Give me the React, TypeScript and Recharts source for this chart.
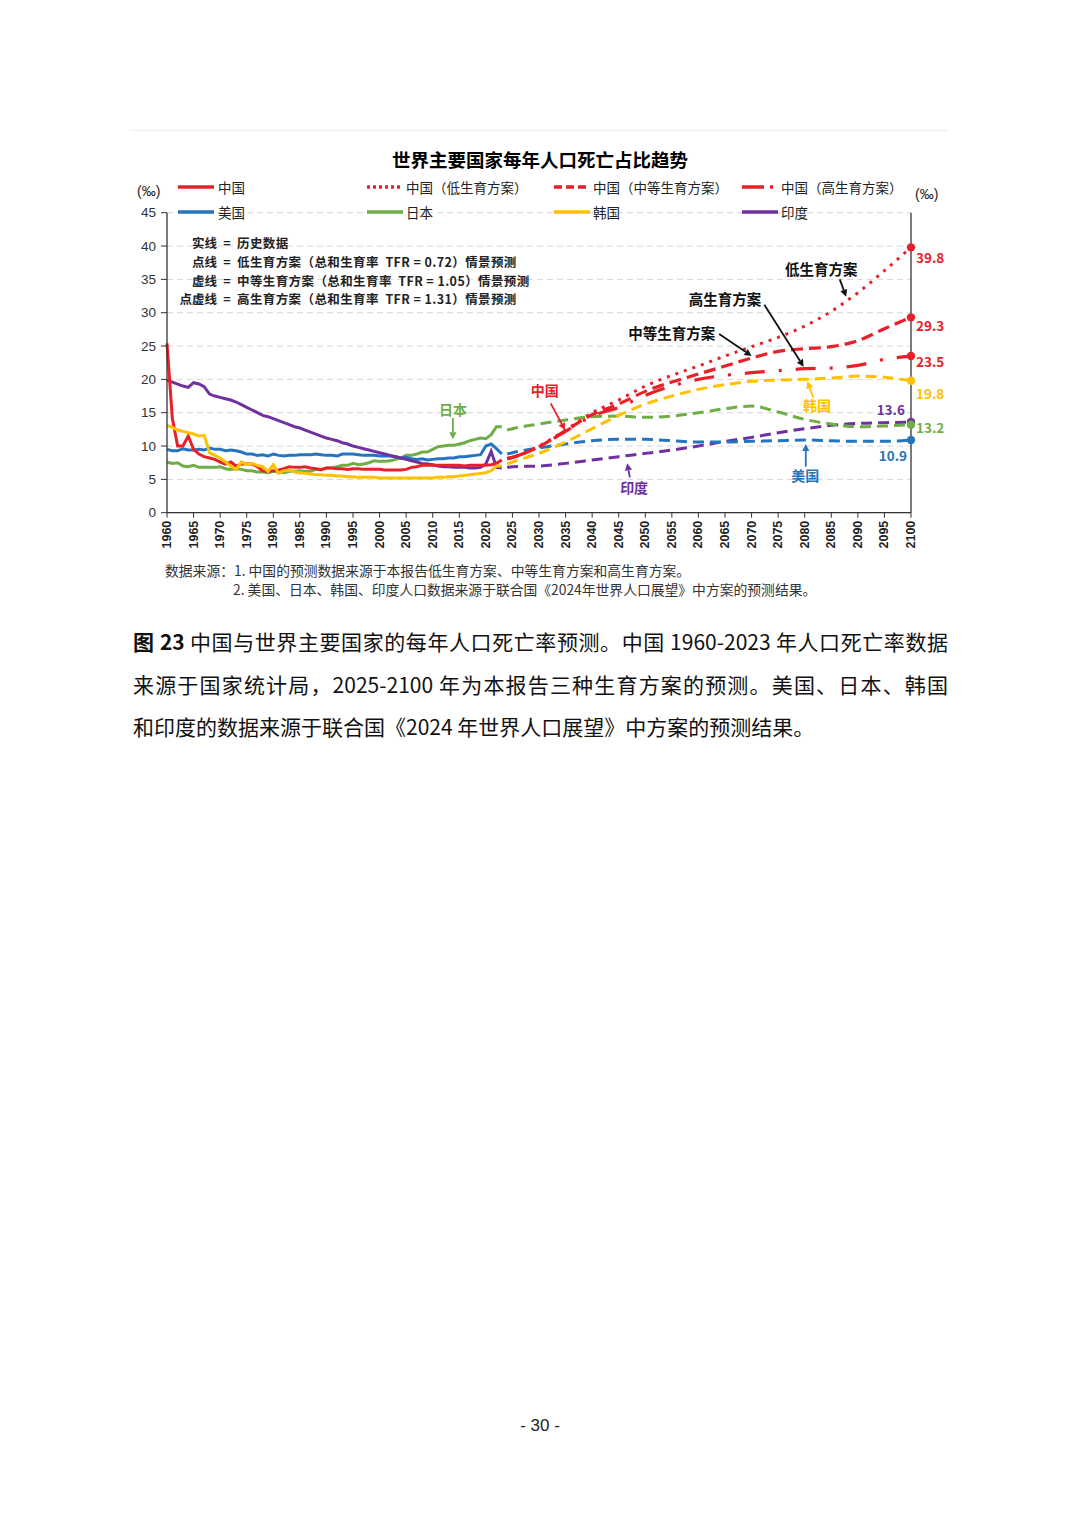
import React from "react";
import {
  LineChart,
  Line,
  XAxis,
  YAxis,
  CartesianGrid,
  ReferenceLine,
  ReferenceDot,
} from "recharts";

// ---- data (‰, crude death rate) ----
const histYears = Array.from({ length: 64 }, (_, i) => 1960 + i); // 1960..2023

const chinaHist = [
  25.4, 14.2, 10.0, 10.0, 11.5, 9.5, 8.8, 8.4, 8.2, 8.0,
  7.6, 7.3, 7.6, 7.0, 7.3, 7.3, 7.3, 6.9, 6.3, 6.2,
  6.3, 6.4, 6.6, 6.9, 6.8, 6.8, 6.9, 6.7, 6.6, 6.5,
  6.7, 6.7, 6.6, 6.6, 6.5, 6.6, 6.6, 6.5, 6.5, 6.5,
  6.5, 6.4, 6.4, 6.4, 6.4, 6.5, 6.8, 6.9, 7.1, 7.1,
  7.1, 7.1, 7.1, 7.1, 7.1, 7.1, 7.0, 7.1, 7.1, 7.1,
  7.1, 7.2, 7.4, 7.9,
];
const usHist = [
  9.5, 9.3, 9.3, 9.6, 9.4, 9.4, 9.5, 9.4, 9.7, 9.5,
  9.5, 9.3, 9.4, 9.3, 9.1, 8.8, 8.8, 8.6, 8.7, 8.5,
  8.8, 8.6, 8.5, 8.6, 8.6, 8.7, 8.7, 8.7, 8.8, 8.7,
  8.6, 8.6, 8.5, 8.8, 8.8, 8.8, 8.7, 8.6, 8.6, 8.6,
  8.5, 8.5, 8.5, 8.4, 8.2, 8.3, 8.1, 8.0, 8.1, 7.9,
  8.0, 8.1, 8.1, 8.2, 8.2, 8.4, 8.4, 8.5, 8.6, 8.7,
  10.0, 10.3, 9.6, 8.8,
];
const japanHist = [
  7.6, 7.4, 7.5, 7.0, 6.9, 7.1, 6.8, 6.8, 6.8, 6.8,
  6.9, 6.6, 6.5, 6.6, 6.5, 6.3, 6.3, 6.1, 6.1, 6.0,
  6.2, 6.1, 6.0, 6.2, 6.2, 6.3, 6.2, 6.2, 6.5, 6.4,
  6.7, 6.7, 6.9, 7.1, 7.1, 7.4, 7.2, 7.3, 7.5, 7.8,
  7.7, 7.7, 7.8, 8.0, 8.2, 8.6, 8.6, 8.8, 9.1, 9.1,
  9.5, 9.9, 10.0, 10.1, 10.1, 10.3, 10.5, 10.8, 11.0, 11.2,
  11.1, 11.7, 12.9, 12.9,
];
const koreaHist = [
  13.1, 12.8, 12.4, 12.2, 12.0, 11.8, 11.5, 11.6, 9.0, 8.6,
  8.2, 7.6, 7.0, 6.5, 7.6, 7.2, 7.4, 7.1, 6.9, 6.2,
  7.2, 5.9, 6.3, 6.4, 6.1, 6.0, 5.9, 5.8, 5.7, 5.7,
  5.6, 5.6, 5.5, 5.5, 5.4, 5.4, 5.3, 5.3, 5.3, 5.3,
  5.2, 5.2, 5.2, 5.2, 5.2, 5.2, 5.2, 5.2, 5.2, 5.2,
  5.2, 5.3, 5.3, 5.4, 5.4, 5.5, 5.6, 5.7, 5.8, 5.9,
  6.0, 6.3, 7.0, 7.0,
];
const indiaHist = [
  19.9, 19.6, 19.3, 19.0, 18.8, 19.5, 19.3, 18.9, 17.8, 17.5,
  17.3, 17.1, 16.9, 16.6, 16.2, 15.8, 15.4, 15.0, 14.6, 14.4,
  14.1, 13.8, 13.5, 13.2, 12.9, 12.7, 12.4, 12.1, 11.8, 11.5,
  11.2, 11.0, 10.8, 10.5, 10.3, 10.0, 9.8, 9.6, 9.4, 9.2,
  9.0, 8.8, 8.6, 8.4, 8.2, 8.0, 7.8, 7.6, 7.4, 7.3,
  7.2, 7.0, 6.9, 6.9, 6.8, 6.8, 6.8, 6.7, 6.7, 6.8,
  7.3, 9.2, 6.8, 6.7,
];

const projYears = [2024, 2025, 2030, 2035, 2040, 2045, 2050, 2055, 2060, 2065, 2070, 2075, 2080, 2085, 2090, 2095, 2100];
const chinaLow = [8.1, 8.3, 10.0, 12.4, 15.0, 16.9, 19.0, 20.6, 22.0, 23.5, 24.9, 26.3, 28.0, 30.2, 33.0, 36.3, 39.8];
const chinaMid = [8.1, 8.3, 9.9, 12.3, 14.7, 16.3, 18.2, 19.6, 20.8, 22.0, 23.2, 24.2, 24.6, 24.9, 25.8, 27.6, 29.3];
const chinaHigh = [8.1, 8.3, 9.9, 12.2, 14.5, 15.8, 17.6, 19.0, 20.0, 20.6, 21.0, 21.3, 21.6, 21.7, 22.1, 23.0, 23.5];
const usProj = [8.8, 9.0, 9.7, 10.3, 10.8, 11.0, 11.0, 10.8, 10.6, 10.6, 10.7, 10.8, 10.9, 10.8, 10.7, 10.7, 10.9];
const japanProj = [12.4, 12.6, 13.3, 13.9, 14.4, 14.5, 14.3, 14.5, 15.0, 15.6, 16.0, 15.1, 14.0, 13.3, 12.9, 13.0, 13.2];
const koreaProj = [7.3, 7.6, 8.9, 10.6, 12.6, 14.6, 16.3, 17.5, 18.5, 19.2, 19.7, 19.9, 20.0, 20.2, 20.5, 20.3, 19.8];
const indiaProj = [6.8, 6.9, 7.0, 7.4, 7.9, 8.4, 8.9, 9.4, 10.0, 10.7, 11.3, 12.0, 12.6, 13.1, 13.4, 13.5, 13.6];

const xTicks = [
  1960, 1965, 1970, 1975, 1980, 1985, 1990, 1995, 2000, 2005, 2010, 2015, 2020, 2025, 2030,
  2035, 2040, 2045, 2050, 2055, 2060, 2065, 2070, 2075, 2080, 2085, 2090, 2095, 2100,
];
const yTicks = [0, 5, 10, 15, 20, 25, 30, 35, 40, 45];

// ---- styling ----
const RED = "#E8202A";
const BLUE = "#2475BE";
const GREEN = "#6FAD47";
const YELLOW = "#FFC000";
const PURPLE = "#7030A0";
const FONT = '"Liberation Sans", "Noto Sans CJK SC", sans-serif';
const CJK = '"Noto Sans CJK SC", "Liberation Sans", sans-serif';

const rows: any[] = [];
histYears.forEach((year, i) =>
  rows.push({
    year,
    china: chinaHist[i],
    us: usHist[i],
    japan: japanHist[i],
    korea: koreaHist[i],
    india: indiaHist[i],
  })
);
projYears.forEach((year, i) =>
  rows.push({
    year,
    chinaLow: chinaLow[i],
    chinaMid: chinaMid[i],
    chinaHigh: chinaHigh[i],
    usP: usProj[i],
    japanP: japanProj[i],
    koreaP: koreaProj[i],
    indiaP: indiaProj[i],
  })
);

// callouts: label position and arrow, in data units
const callouts = [
  { text: "低生育方案", color: "#111", size: 14.5, tx: 2083.1, ty: 36.7, from: [2086.6, 35.0], to: [2087.8, 32.4] },
  { text: "高生育方案", color: "#111", size: 14.5, tx: 2065.0, ty: 32.2, from: [2072.4, 31.2], to: [2079.8, 21.9] },
  { text: "中等生育方案", color: "#111", size: 14.5, tx: 2055.0, ty: 27.0, from: [2063.9, 26.8], to: [2070.0, 23.5] },
  { text: "中国", color: RED, size: 14, tx: 2031.1, ty: 18.4, from: [2032.2, 16.4], to: [2034.9, 12.4] },
  { text: "日本", color: GREEN, size: 14, tx: 2013.8, ty: 15.5, from: [2013.8, 14.2], to: [2013.8, 11.0] },
  { text: "韩国", color: YELLOW, size: 14, tx: 2082.3, ty: 16.2, from: [2081.6, 17.3], to: [2080.5, 19.7] },
  { text: "美国", color: BLUE, size: 14, tx: 2080.1, ty: 5.6, from: [2080.2, 6.9], to: [2080.2, 10.3] },
  { text: "印度", color: PURPLE, size: 14, tx: 2047.9, ty: 3.8, from: [2047.1, 5.3], to: [2046.6, 7.4] },
];

const endLabels = [
  { text: "39.8", color: RED, x: 2100, y: 38.3, anchor: "start" },
  { text: "29.3", color: RED, x: 2100, y: 28.1, anchor: "start" },
  { text: "23.5", color: RED, x: 2100, y: 22.8, anchor: "start" },
  { text: "19.8", color: YELLOW, x: 2100, y: 18.0, anchor: "start" },
  { text: "13.2", color: GREEN, x: 2100, y: 12.8, anchor: "start" },
  { text: "13.6", color: PURPLE, x: 2096.2, y: 15.6, anchor: "middle" },
  { text: "10.9", color: BLUE, x: 2096.6, y: 8.7, anchor: "middle" },
];

const legendItems = [
  { label: "中国", color: RED, dash: undefined, col: 0, row: 0 },
  { label: "中国（低生育方案）", color: RED, dash: "3 3", col: 1, row: 0 },
  { label: "中国（中等生育方案）", color: RED, dash: "8 4", col: 2, row: 0 },
  { label: "中国（高生育方案）", color: RED, dash: "22 6 3 20", col: 3, row: 0 },
  { label: "美国", color: BLUE, dash: undefined, col: 0, row: 1 },
  { label: "日本", color: GREEN, dash: undefined, col: 1, row: 1 },
  { label: "韩国", color: YELLOW, dash: undefined, col: 2, row: 1 },
  { label: "印度", color: PURPLE, dash: undefined, col: 3, row: 1 },
];
const legendLineX = [178, 367, 554, 742];
const legendTextX = [218, 406, 593, 781];
const legendRowY = [187, 212];

const XTick = (props: any) => {
  const { x, y, payload } = props;
  return (
    <text
      x={x}
      y={y}
      transform={`rotate(-90 ${x} ${y})`}
      textAnchor="end"
      dominantBaseline="central"
      fontSize={12.5}
      fontWeight={700}
      fill="#222"
      fontFamily={FONT}
    >
      {payload.value}
    </text>
  );
};

const endDot = (color: string) => (p: any) =>
  p.payload && p.payload.year === 2100 ? (
    <circle key={`end-${color}-${p.index}`} cx={p.cx} cy={p.cy} r={4.2} fill={color} stroke="none" />
  ) : (
    <g key={`none-${color}-${p.index}`} />
  );

const arrowShape = (color: string) => (p: any) => {
  const { x1, y1, x2, y2 } = p;
  const ang = Math.atan2(y2 - y1, x2 - x1);
  const L = 7;
  const W = 3.6;
  const bx = x2 - L * Math.cos(ang);
  const by = y2 - L * Math.sin(ang);
  const pts = `${x2},${y2} ${bx + W * Math.sin(ang)},${by - W * Math.cos(ang)} ${bx - W * Math.sin(ang)},${by + W * Math.cos(ang)}`;
  return (
    <g>
      <line x1={x1} y1={y1} x2={bx} y2={by} stroke={color} strokeWidth={1.8} />
      <polygon points={pts} fill={color} />
    </g>
  );
};

const textShape = (text: string, color: string, size: number, anchor: string, dx: number) => (p: any) => (
  <text
    x={p.cx + dx}
    y={p.cy}
    textAnchor={anchor as any}
    dominantBaseline="central"
    fontSize={size}
    fontWeight={700}
    fill={color}
    fontFamily={CJK}
  >
    {text}
  </text>
);

const noteLines = [
  { label: "实线", text: "历史数据" },
  { label: "点线", text: "低生育方案（总和生育率  TFR = 0.72）情景预测" },
  { label: "虚线", text: "中等生育方案（总和生育率  TFR = 1.05）情景预测" },
  { label: "点虚线", text: "高生育方案（总和生育率  TFR = 1.31）情景预测" },
];

export default function App() {
  return (
    <div
      lang="zh-CN"
      style={{
        position: "absolute",
        left: 0,
        top: 0,
        width: 1080,
        height: 1528,
        background: "#fff",
        overflow: "hidden",
        fontFamily: CJK,
      }}
    >
      <div style={{ position: "absolute", left: 130, top: 130, width: 818, height: 1, background: "#eeeeee" }} />

      <LineChart
        width={1080}
        height={600}
        data={rows}
        margin={{ top: 212.7, right: 129, left: 127, bottom: 37.3 }}
        style={{ position: "absolute", left: 0, top: 0, fontFamily: FONT }}
      >
        <CartesianGrid vertical={false} stroke="#d6d6d6" strokeDasharray="6 4" />
        <XAxis
          dataKey="year"
          type="number"
          domain={[1960, 2100]}
          ticks={xTicks}
          interval={0}
          height={50}
          tick={<XTick />}
          tickSize={5}
          tickMargin={3}
          axisLine={{ stroke: "#333", strokeWidth: 1.3 }}
          tickLine={{ stroke: "#333" }}
        />
        <YAxis
          domain={[0, 45]}
          ticks={yTicks}
          width={40}
          tickSize={6}
          tickMargin={5}
          tick={{ fontSize: 13.5, fill: "#333" }}
          axisLine={{ stroke: "#333", strokeWidth: 1.3 }}
          tickLine={{ stroke: "#333" }}
        />
        <YAxis
          yAxisId="r"
          orientation="right"
          domain={[0, 45]}
          ticks={yTicks}
          width={40}
          tickSize={6}
          tickMargin={5}
          tick={{ fontSize: 13.5, fill: "#333" }}
          axisLine={{ stroke: "#333", strokeWidth: 1.3 }}
          tickLine={{ stroke: "#333" }}
        />

        {/* projections */}
        <Line dataKey="indiaP" type="monotone" stroke={PURPLE} strokeWidth={3} strokeDasharray="11 6" dot={endDot(PURPLE)} activeDot={false} connectNulls isAnimationActive={false} />
        <Line dataKey="usP" type="monotone" stroke={BLUE} strokeWidth={3} strokeDasharray="11 6" dot={endDot(BLUE)} activeDot={false} connectNulls isAnimationActive={false} />
        <Line dataKey="japanP" type="monotone" stroke={GREEN} strokeWidth={3} strokeDasharray="11 6" dot={endDot(GREEN)} activeDot={false} connectNulls isAnimationActive={false} />
        <Line dataKey="koreaP" type="monotone" stroke={YELLOW} strokeWidth={3} strokeDasharray="11 6" dot={endDot(YELLOW)} activeDot={false} connectNulls isAnimationActive={false} />
        <Line dataKey="chinaHigh" type="monotone" stroke={RED} strokeWidth={3.2} strokeDasharray="20 14 3 14" dot={endDot(RED)} activeDot={false} connectNulls isAnimationActive={false} />
        <Line dataKey="chinaMid" type="monotone" stroke={RED} strokeWidth={3.2} strokeDasharray="12 6" dot={endDot(RED)} activeDot={false} connectNulls isAnimationActive={false} />
        <Line dataKey="chinaLow" type="monotone" stroke={RED} strokeWidth={3} strokeDasharray="3 6" dot={endDot(RED)} activeDot={false} connectNulls isAnimationActive={false} />

        {/* history */}
        <Line dataKey="japan" type="linear" stroke={GREEN} strokeWidth={3} dot={false} activeDot={false} isAnimationActive={false} />
        <Line dataKey="us" type="linear" stroke={BLUE} strokeWidth={3} dot={false} activeDot={false} isAnimationActive={false} />
        <Line dataKey="india" type="linear" stroke={PURPLE} strokeWidth={3} dot={false} activeDot={false} isAnimationActive={false} />
        <Line dataKey="china" type="linear" stroke={RED} strokeWidth={3} dot={false} activeDot={false} isAnimationActive={false} />
        <Line dataKey="korea" type="linear" stroke={YELLOW} strokeWidth={3} dot={false} activeDot={false} isAnimationActive={false} />

        {callouts.map((c) => (
          <ReferenceLine
            key={`a-${c.text}`}
            segment={[
              { x: c.from[0], y: c.from[1] },
              { x: c.to[0], y: c.to[1] },
            ]}
            shape={arrowShape(c.color)}
          />
        ))}
        {callouts.map((c) => (
          <ReferenceDot
            key={`t-${c.text}`}
            x={c.tx}
            y={c.ty}
            shape={textShape(c.text, c.color, c.size, "middle", 0)}
          />
        ))}
        {endLabels.map((l) => (
          <ReferenceDot
            key={`e-${l.text}`}
            x={l.x}
            y={l.y}
            shape={textShape(l.text, l.color, 13.5, l.anchor, l.anchor === "start" ? 5 : 0)}
          />
        ))}
      </LineChart>

      {/* title */}
      <div
        style={{
          position: "absolute",
          left: 0,
          width: 1080,
          top: 147,
          textAlign: "center",
          fontSize: 18.5,
          fontWeight: 700,
          color: "#000",
          lineHeight: "24px",
        }}
      >
        世界主要国家每年人口死亡占比趋势
      </div>

      {/* unit labels */}
      <div style={{ position: "absolute", left: 137, top: 183, fontSize: 14, fontFamily: FONT, color: "#222" }}>(‰)</div>
      <div style={{ position: "absolute", left: 915, top: 186, fontSize: 14, fontFamily: FONT, color: "#222" }}>(‰)</div>

      {/* legend */}
      {legendItems.map((it) => (
        <React.Fragment key={it.label}>
          <svg
            width={40}
            height={8}
            style={{ position: "absolute", left: legendLineX[it.col], top: legendRowY[it.row] - 4 }}
          >
            <line
              x1={0}
              y1={4}
              x2={it.dash === "22 6 3 20" ? 40 : 36}
              y2={4}
              stroke={it.color}
              strokeWidth={3.5}
              strokeDasharray={it.dash}
            />
          </svg>
          <div
            style={{
              position: "absolute",
              left: legendTextX[it.col],
              top: legendRowY[it.row] - 10,
              fontSize: 13.5,
              lineHeight: "20px",
              color: "#222",
              whiteSpace: "nowrap",
            }}
          >
            {it.label}
          </div>
        </React.Fragment>
      ))}

      {/* notes */}
      {noteLines.map((n, i) => (
        <div
          key={n.label}
          style={{
            position: "absolute",
            top: 234 + i * 18.8,
            left: 150,
            fontSize: 12.5,
            fontWeight: 700,
            lineHeight: "18px",
            color: "#222",
            whiteSpace: "pre",
            display: "flex",
          }}
        >
          <span style={{ width: 67, textAlign: "right" }}>{n.label}</span>
          <span style={{ width: 20, textAlign: "center" }}>=</span>
          <span style={{ letterSpacing: 0.4 }}>{n.text}</span>
        </div>
      ))}

      {/* source */}
      <div style={{ position: "absolute", left: 165, top: 561, fontSize: 13.8, lineHeight: "18px", color: "#333", whiteSpace: "nowrap" }}>
        数据来源：1. 中国的预测数据来源于本报告低生育方案、中等生育方案和高生育方案。
      </div>
      <div style={{ position: "absolute", left: 233, top: 580, fontSize: 13.8, lineHeight: "18px", color: "#333", whiteSpace: "nowrap" }}>
        2. 美国、日本、韩国、印度人口数据来源于联合国《2024年世界人口展望》中方案的预测结果。
      </div>

      {/* caption */}
      <div style={{ position: "absolute", left: 133, top: 626, width: 815, fontSize: 21, lineHeight: "30px", color: "#111", textAlign: "justify", textAlignLast: "justify" as any }}>
        <b>图 23</b> 中国与世界主要国家的每年人口死亡率预测。中国 1960-2023 年人口死亡率数据
      </div>
      <div style={{ position: "absolute", left: 133, top: 669, width: 815, fontSize: 21, lineHeight: "30px", color: "#111", textAlign: "justify", textAlignLast: "justify" as any }}>
        来源于国家统计局，2025-2100 年为本报告三种生育方案的预测。美国、日本、韩国
      </div>
      <div style={{ position: "absolute", left: 133, top: 711, width: 815, fontSize: 21, lineHeight: "30px", color: "#111", whiteSpace: "nowrap" }}>
        和印度的数据来源于联合国《2024 年世界人口展望》中方案的预测结果。
      </div>

      {/* page number */}
      <div style={{ position: "absolute", left: 0, width: 1080, top: 1416, textAlign: "center", fontSize: 17, fontFamily: FONT, color: "#222" }}>
        - 30 -
      </div>
    </div>
  );
}
